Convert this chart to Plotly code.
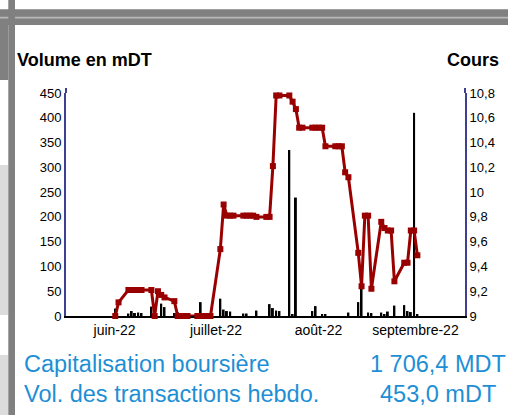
import plotly.graph_objects as go

# ---------------- data ----------------
dates = [
    "2022-06-02", "2022-06-03", "2022-06-06", "2022-06-07", "2022-06-08", "2022-06-09", "2022-06-10",
    "2022-06-13", "2022-06-14", "2022-06-15", "2022-06-16", "2022-06-17",
    "2022-06-20", "2022-06-21", "2022-06-22", "2022-06-23", "2022-06-24",
    "2022-06-27", "2022-06-28", "2022-06-29", "2022-06-30", "2022-07-01",
    "2022-07-04", "2022-07-05", "2022-07-06", "2022-07-07", "2022-07-08",
    "2022-07-11", "2022-07-12", "2022-07-13", "2022-07-14", "2022-07-15",
    "2022-07-18", "2022-07-19", "2022-07-20", "2022-07-21", "2022-07-22",
    "2022-07-25", "2022-07-26", "2022-07-27", "2022-07-28", "2022-07-29",
    "2022-08-01", "2022-08-02", "2022-08-03", "2022-08-04", "2022-08-05",
    "2022-08-08", "2022-08-09", "2022-08-10", "2022-08-11", "2022-08-12",
    "2022-08-15", "2022-08-16", "2022-08-17", "2022-08-18", "2022-08-19",
    "2022-08-22", "2022-08-23", "2022-08-24", "2022-08-25", "2022-08-26",
    "2022-08-29", "2022-08-30", "2022-08-31", "2022-09-01", "2022-09-02",
]
cours = [
    9.00, 9.11, 9.21, 9.21, 9.21, 9.21, 9.21,
    9.21, 9.00, 9.20, 9.17, 9.15,
    9.12, 9.00, 9.00, 9.00, 9.00,
    9.00, 9.00, 9.00, 9.00, 9.00,
    9.54, 9.90, 9.81, 9.81, 9.81,
    9.81, 9.81, 9.81, 9.81, 9.80,
    9.80, 9.80, 10.21, 10.78, 10.78,
    10.78, 10.73, 10.67, 10.52, 10.52,
    10.52, 10.52, 10.52, 10.52, 10.37,
    10.37, 10.37, 10.37, 10.16, 10.12,
    9.51, 9.24, 9.81, 9.81, 9.22,
    9.76, 9.71, 9.69, 9.69, 9.28,
    9.43, 9.43, 9.69, 9.69, 9.49,
]
volume = [
    15, 0, 5, 10, 6, 7, 6,
    19, 0, 0, 25, 18,
    6, 8, 0, 5, 6,
    0, 28, 5, 5, 5,
    35, 13, 10, 9, 0,
    5, 5, 0, 0, 11,
    0, 24, 16, 11, 10,
    335, 3, 239, 0, 0,
    10, 20, 0, 4, 3,
    0, 0, 0, 0, 7,
    28, 62, 0, 7, 6,
    7, 3, 9, 0, 21,
    22, 10, 8, 410, 3,
]
month_ticks = ["2022-06-01 19:00", "2022-07-02 16:00", "2022-08-02 21:00", "2022-09-01 10:00"]
month_labels = ["juin-22", "juillet-22", "août-22", "septembre-22"]
vol_ticks = [0, 50, 100, 150, 200, 250, 300, 350, 400, 450]
cours_ticks = [9.0, 9.2, 9.4, 9.6, 9.8, 10.0, 10.2, 10.4, 10.6, 10.8]
cours_labels = ["9", "9,2", "9,4", "9,6", "9,8", "10", "10,2", "10,4", "10,6", "10,8"]

# ---------------- layout helpers ----------------
W, H = 508, 415
L, R, T, B = 66, 465, 93, 316
FONT = "Arial, Liberation Sans, sans-serif"
NAVY = "#404090"
RED = "#990000"
BLUE = "#1e8fd5"


def fx(px):
    return (px - L) / (R - L)


def fy(py):
    return (B - py) / (B - T)


fig = go.Figure()
fig.add_trace(go.Bar(
    x=dates, y=volume, marker=dict(color="black", line=dict(width=0)),
    width=0.6 * 86400000, yaxis="y", hoverinfo="skip",
))
fig.add_trace(go.Scatter(
    x=dates, y=cours, mode="lines+markers", yaxis="y2",
    line=dict(color=RED, width=3),
    marker=dict(symbol="square", size=6, color=RED),
    cliponaxis=False,
))

fig.update_layout(
    width=W, height=H,
    margin=dict(l=L, r=W - R, t=T, b=H - B, pad=0),
    plot_bgcolor="white", paper_bgcolor="white",
    showlegend=False,
    font=dict(family=FONT, color="black"),
    xaxis=dict(
        type="date", range=["2022-05-18", "2022-09-16 12:00"],
        showline=True, linecolor="black", linewidth=2,
        showgrid=False, zeroline=False, ticks="",
        tickvals=month_ticks, ticktext=month_labels,
        tickfont=dict(family=FONT, size=14, color="black"),
        layer="below traces",
    ),
    yaxis=dict(
        range=[0, 450], tickvals=vol_ticks,
        showline=True, linecolor=NAVY, linewidth=2,
        showgrid=False, zeroline=False, ticks="",
        tickfont=dict(family=FONT, size=13, color="black"),
    ),
    yaxis2=dict(
        range=[9, 10.8], overlaying="y", side="right",
        tickvals=cours_ticks, ticktext=cours_labels,
        showline=True, linecolor=NAVY, linewidth=2,
        showgrid=False, zeroline=False, ticks="",
        tickfont=dict(family=FONT, size=13, color="black"),
    ),
)

ann = [
    dict(text="<b>Volume en mDT</b>", x=fx(15), y=fy(60), xanchor="left", yanchor="middle",
         font=dict(family=FONT, size=18, color="black")),
    dict(text="<b>Cours</b>", x=fx(501), y=fy(60), xanchor="right", yanchor="middle",
         font=dict(family=FONT, size=18, color="black")),
    dict(text="Capitalisation boursière", x=fx(22), y=fy(364), xanchor="left", yanchor="middle",
         font=dict(family=FONT, size=23.5, color=BLUE)),
    dict(text="Vol. des transactions hebdo.", x=fx(22), y=fy(394), xanchor="left", yanchor="middle",
         font=dict(family=FONT, size=23.5, color=BLUE)),
    dict(text="1 706,4 MDT", x=fx(438), y=fy(364), xanchor="center", yanchor="middle",
         font=dict(family=FONT, size=23.5, color=BLUE)),
    dict(text="453,0 mDT", x=fx(438), y=fy(394), xanchor="center", yanchor="middle",
         font=dict(family=FONT, size=23.5, color=BLUE)),
]
for a in ann:
    a.update(xref="paper", yref="paper", showarrow=False)
fig.update_layout(annotations=ann)

# page frame (grey bars of the surrounding page) and axis-line stubs above the top tick
GREY = "#808080"
LIGHT = "#dcdcdc"
rects = [
    (0, 9.3, W, 25, GREY),
    (0, 16.7, W, 18.5, "#b8b8b8"),
    (0, 25, 8.3, 80, GREY),
    (0, 165, 8.3, 315, LIGHT),
    (0, 355, 8.3, H, LIGHT),
    (8.3, 0, 15, H, GREY),
]
shapes = []
for x0, y0, x1, y1, c in rects:
    shapes.append(dict(type="rect", xref="paper", yref="paper",
                       x0=fx(x0), x1=fx(x1), y0=fy(y0), y1=fy(y1),
                       fillcolor=c, line=dict(width=0), layer="above"))
for xp in (0, 1):
    shapes.append(dict(type="line", xref="paper", yref="paper",
                       x0=xp, x1=xp, y0=1, y1=fy(88),
                       line=dict(color=NAVY, width=2), layer="above"))
fig.update_layout(shapes=shapes)

fig.write_html(
    "out.html",
    config={"displayModeBar": False},
    post_script="document.body.style.margin='0';document.body.style.overflow='hidden';",
)
